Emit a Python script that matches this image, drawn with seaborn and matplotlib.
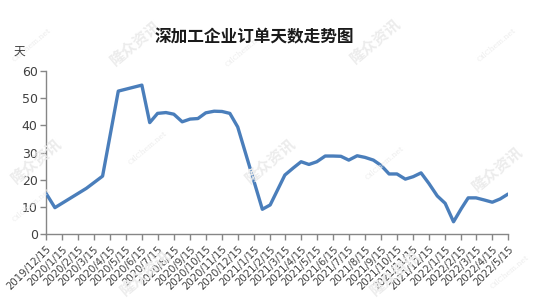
import matplotlib
matplotlib.use("Agg")
import matplotlib.pyplot as plt
import seaborn as sns
import pandas as pd

# ---- data ----
dates = [
    "2019-12-15", "2020-01-01", "2020-03-01", "2020-04-01", "2020-05-01",
    "2020-06-15", "2020-06-30", "2020-07-15", "2020-07-31", "2020-08-15",
    "2020-08-31", "2020-09-15", "2020-09-30", "2020-10-15", "2020-10-31",
    "2020-11-15", "2020-11-30", "2020-12-15", "2021-01-31", "2021-02-15",
    "2021-03-15", "2021-03-31", "2021-04-15", "2021-04-30", "2021-05-15",
    "2021-05-31", "2021-06-15", "2021-06-30", "2021-07-15", "2021-07-31",
    "2021-08-15", "2021-08-31", "2021-09-15", "2021-09-30", "2021-10-15",
    "2021-10-31", "2021-11-15", "2021-11-30", "2021-12-15", "2021-12-31",
    "2022-01-15", "2022-01-31", "2022-02-15", "2022-02-28", "2022-03-15",
    "2022-03-31", "2022-04-15", "2022-04-30", "2022-05-15",
]
days = [
    15.0, 9.7, 16.8, 21.3, 52.6,
    54.8, 41.0, 44.4, 44.7, 44.1,
    41.3, 42.3, 42.5, 44.6, 45.2,
    45.1, 44.4, 39.4, 9.1, 10.7,
    21.7, 24.3, 26.6, 25.6, 26.6,
    28.7, 28.7, 28.6, 27.2, 28.8,
    28.2, 27.2, 25.2, 22.1, 22.1,
    20.2, 21.1, 22.5, 18.6, 14.0,
    11.3, 4.5, 9.4, 13.3, 13.3,
    12.5, 11.7, 12.9, 14.7,
]
tick_dates = pd.date_range("2019-12-01", "2022-05-01", freq="MS") + pd.Timedelta(days=14)
tick_labels = [f"{d.year}/{d.month}/{d.day}" for d in tick_dates]
y_ticks = [0, 10, 20, 30, 40, 50, 60]
title = "深加工企业订单天数走势图"
y_unit = "天"

df = pd.DataFrame({"date": pd.to_datetime(dates), "days": days})

sns.set_theme(style="white")
plt.rcParams["font.family"] = ["DejaVu Sans", "Noto Sans CJK SC"]

fig = plt.figure(figsize=(5.43, 3.08), dpi=100)
ax = fig.add_axes([46 / 543, 1 - 234 / 308, (508 - 46) / 543, (234 - 71) / 308])

# watermarks
wm_color = "#ececec"
for (x, y) in [(135, 42), (375, 40), (36, 160), (270, 160), (497, 168), (145, 272), (395, 272)]:
    fig.text(x / 543, 1 - y / 308, "隆众资讯", fontsize=11, fontweight="bold", color=wm_color,
             rotation=40, ha="center", va="center", family=["Noto Sans CJK SC"], zorder=0)
for (x, y) in [(32, 45), (245, 50), (497, 45), (148, 148), (385, 163), (32, 205), (510, 272)]:
    fig.text(x / 543, 1 - y / 308, "OilChem.net", fontsize=5.5, color=wm_color,
             rotation=40, ha="center", va="center", family=["DejaVu Serif"], zorder=0)

sns.lineplot(data=df, x="date", y="days", ax=ax, color="#4A7EBB", linewidth=2.4, zorder=3)

ax.set_xlim(tick_dates[0], tick_dates[-1])
ax.set_ylim(0, 60)
ax.set_yticks(y_ticks)
ax.set_yticklabels([str(v) for v in y_ticks], fontsize=9, color="#404040")
ax.set_xticks(tick_dates)
ax.set_xticklabels(tick_labels, rotation=45, ha="right", va="top", fontsize=7.3,
                   color="#404040", rotation_mode="anchor")
ax.set_xlabel("")
ax.set_ylabel("")
ax.patch.set_alpha(0)

for s in ["top", "right"]:
    ax.spines[s].set_visible(False)
for s in ["left", "bottom"]:
    ax.spines[s].set_color("#868686")
    ax.spines[s].set_linewidth(1.0)
ax.tick_params(axis="both", which="both", direction="out", length=4, width=1,
               color="#868686", left=True, bottom=True, pad=2)
ax.tick_params(axis="x", pad=3)
ax.grid(False)

fig.text(254 / 543, 1 - 37 / 308, title, fontsize=12, fontweight="bold", color="#1a1a1a",
         ha="center", va="center", family=["Noto Sans CJK SC"])
fig.text(19 / 543, 1 - 51 / 308, y_unit, fontsize=8.5, color="#404040",
         ha="center", va="center", family=["Noto Sans CJK SC"])

fig.savefig("out.png", dpi=100)
